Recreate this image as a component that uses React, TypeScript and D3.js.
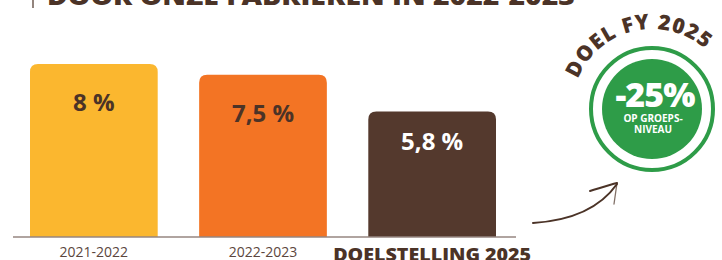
import React, { useEffect, useRef } from 'react';
import * as d3 from 'd3';

const categories = ['2021-2022', '2022-2023', 'DOELSTELLING 2025'];
const values = [8, 7.5, 5.8];
const valueLabels = ['8 %', '7,5 %', '5,8 %'];
const barColors = ['#FBB72F', '#F37424', '#54392D'];
const title = 'DOOR ONZE FABRIEKEN IN 2022-2023';
const badgeArcText = 'DOEL FY 2025';
const badgeValue = '-25%';
const badgeLines = ['OP GROEPS-', 'NIVEAU'];

const BROWN = '#4B3327';
const GREEN = '#2E9C48';
const FONT = "'Open Sans', 'DejaVu Sans', sans-serif";

export default function App() {
  const ref = useRef<SVGSVGElement>(null);

  useEffect(() => {
    const width = 722;
    const height = 260;
    const svg = d3.select(ref.current);
    svg.selectAll('*').remove();
    svg.attr('viewBox', `0 0 ${width} ${height}`);

    const baseY = 237;
    const x = d3.scaleBand().domain(categories).range([30, 496]).paddingInner(0.245).paddingOuter(0);
    const y = d3.scaleLinear().domain([0, 8]).range([baseY, 64]);

    // clipped title at the top
    svg.append('line')
      .attr('x1', 33).attr('x2', 33).attr('y1', 0).attr('y2', 8)
      .attr('stroke', BROWN).attr('stroke-width', 1.2);
    svg.append('text')
      .attr('x', 47).attr('y', 5)
      .attr('font-family', FONT).attr('font-weight', 800).attr('font-size', 24)
      .attr('fill', BROWN)
      .attr('textLength', 528).attr('lengthAdjust', 'spacingAndGlyphs')
      .text(title);

    // bars with rounded top corners
    const r = 8;
    const barPath = (d: number, i: number) => {
      const x0 = x(categories[i])!;
      const x1 = x0 + x.bandwidth();
      const top = y(d);
      return `M${x0},${baseY}V${top + r}Q${x0},${top} ${x0 + r},${top}H${x1 - r}Q${x1},${top} ${x1},${top + r}V${baseY}Z`;
    };
    svg.append('g').selectAll('path').data(values).join('path')
      .attr('d', barPath)
      .attr('fill', (_, i) => barColors[i]);

    // baseline
    svg.append('line')
      .attr('x1', 13).attr('x2', 516).attr('y1', baseY).attr('y2', baseY)
      .attr('stroke', '#968680').attr('stroke-width', 1.5);

    // value labels
    const isTarget = (i: number) => i === categories.length - 1;
    svg.append('g').selectAll('text').data(values).join('text')
      .attr('x', (_, i) => x(categories[i])! + x.bandwidth() / 2)
      .attr('y', (d, i) => y(d) + (isTarget(i) ? 38 : 47))
      .attr('text-anchor', 'middle')
      .attr('font-family', FONT).attr('font-weight', 700).attr('font-size', 24)
      .attr('fill', (_, i) => (isTarget(i) ? '#ffffff' : BROWN))
      .text((_, i) => valueLabels[i]);

    // category labels
    svg.append('g').selectAll('text').data(categories).join('text')
      .attr('x', (d) => x(d)! + x.bandwidth() / 2)
      .attr('y', (_, i) => (isTarget(i) ? 261 : 257))
      .attr('text-anchor', 'middle')
      .attr('font-family', FONT)
      .attr('font-weight', (_, i) => (isTarget(i) ? 800 : 400))
      .attr('font-size', (_, i) => (isTarget(i) ? 18 : 14))
      .attr('fill', (_, i) => (isTarget(i) ? BROWN : '#5B463D'))
      .each(function (_, i) {
        if (isTarget(i)) d3.select(this).attr('textLength', 198).attr('lengthAdjust', 'spacingAndGlyphs');
      })
      .text((d) => d);

    // badge
    const cx = 652;
    const cy = 109;
    const badge = svg.append('g');
    badge.append('circle').attr('cx', cx).attr('cy', cy).attr('r', 61)
      .attr('fill', '#fff').attr('stroke', GREEN).attr('stroke-width', 4);
    badge.append('circle').attr('cx', cx).attr('cy', cy).attr('r', 50).attr('fill', GREEN);
    badge.append('text')
      .attr('x', cx + 3).attr('y', cy - 2)
      .attr('text-anchor', 'middle')
      .attr('font-family', FONT).attr('font-weight', 800).attr('font-size', 34)
      .attr('letter-spacing', -1)
      .attr('fill', '#fff')
      .text(badgeValue);
    badge.selectAll('text.sub').data(badgeLines).join('text')
      .attr('class', 'sub')
      .attr('x', cx + 1).attr('y', (_, i) => cy + 13 + i * 10.5)
      .attr('text-anchor', 'middle')
      .attr('font-family', FONT).attr('font-weight', 700).attr('font-size', 10)
      .attr('fill', '#fff')
      .text((d) => d);

    // curved title over the badge
    const ar = 80;
    const a0 = (-195 * Math.PI) / 180;
    const a1 = (-11 * Math.PI) / 180;
    const arcD = `M${cx + ar * Math.cos(a0)},${cy + ar * Math.sin(a0)}A${ar},${ar} 0 1 1 ${cx + ar * Math.cos(a1)},${cy + ar * Math.sin(a1)}`;
    svg.append('path').attr('id', 'badgeArc').attr('d', arcD).attr('fill', 'none');
    svg.append('text')
      .attr('font-family', FONT).attr('font-weight', 800).attr('font-size', 21)
      .attr('letter-spacing', 1)
      .attr('fill', BROWN)
      .append('textPath')
      .attr('href', '#badgeArc')
      .attr('startOffset', '50%')
      .attr('text-anchor', 'middle')
      .text(badgeArcText);

    // hand drawn arrow
    const arrow = svg.append('g').attr('fill', 'none').attr('stroke', BROWN).attr('stroke-linecap', 'round');
    arrow.append('path').attr('d', 'M533,223C565,221 598,211 617,184').attr('stroke-width', 2);
    arrow.append('path').attr('d', 'M590,191C600,188 609,185 617,183').attr('stroke-width', 2);
    arrow.append('path').attr('d', 'M617,183C616,190 615,197 614,204').attr('stroke-width', 1.3).attr('opacity', 0.7);
  }, []);

  return (
    <svg
      ref={ref}
      width={722}
      height={260}
      style={{ position: 'absolute', left: 0, top: 0, background: '#fff' }}
    />
  );
}
